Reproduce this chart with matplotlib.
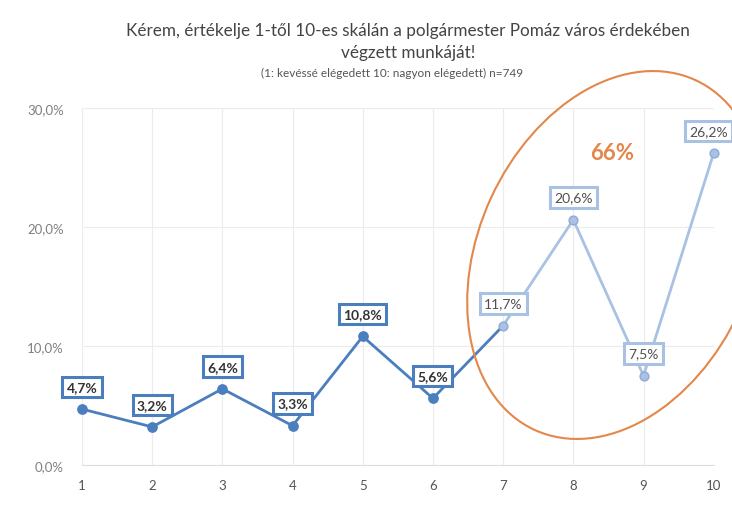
import matplotlib
matplotlib.use("Agg")
import matplotlib.pyplot as plt
from matplotlib.patches import Ellipse
from matplotlib.transforms import IdentityTransform

plt.rcParams["font.family"] = ["Lato", "DejaVu Sans"]

scores = [1, 2, 3, 4, 5, 6, 7, 8, 9, 10]
shares = [4.7, 3.2, 6.4, 3.3, 10.8, 5.6, 11.7, 20.6, 7.5, 26.2]
labels = ["4,7%", "3,2%", "6,4%", "3,3%", "10,8%", "5,6%",
          "11,7%", "20,6%", "7,5%", "26,2%"]
y_ticks = [0, 10, 20, 30]
y_ticklabels = ["0,0%", "10,0%", "20,0%", "30,0%"]
n_dark = 6  # first six points drawn in the darker blue

DARK = "#4a7ebf"
LIGHT = "#a9c1e3"
ORANGE = "#e3874a"

fig = plt.figure(figsize=(7.32, 5.06), dpi=100)
ax = fig.add_axes([0.112, 0.079, 0.863, 0.706])

# dark part (includes segment to point 7), light part after
ax.plot(scores[:n_dark + 1], shares[:n_dark + 1], color=DARK, lw=2.0, zorder=3,
        clip_on=False)
ax.plot(scores[n_dark:], shares[n_dark:], color=LIGHT, lw=2.0, zorder=3,
        clip_on=False)
ax.scatter(scores[:n_dark], shares[:n_dark], s=45, color=DARK, zorder=4,
           clip_on=False)
ax.scatter(scores[n_dark:], shares[n_dark:], s=40, color=LIGHT,
           edgecolors="#8eaad6", linewidths=1.0, zorder=4, clip_on=False)

for i, (x, y, t) in enumerate(zip(scores, shares, labels)):
    dark = i < n_dark
    dx = -4 if i == len(scores) - 1 else 0  # keep the last box inside the image
    ax.annotate(t, (x, y), xytext=(dx, 16), textcoords="offset points",
                ha="center", va="center", fontsize=10,
                fontweight="bold" if dark else "normal",
                color="#333333" if dark else "#505050", zorder=6,
                bbox=dict(boxstyle="square,pad=0.3", fc="white",
                          ec=DARK if dark else LIGHT, lw=2.2))

ax.set_xlim(1, 10)
ax.set_ylim(0, 30)
ax.set_xticks(scores)
ax.set_xticklabels([str(s) for s in scores])
ax.set_yticks(y_ticks)
ax.set_yticklabels(y_ticklabels)
ax.tick_params(axis="both", length=0, labelsize=9.5)
ax.tick_params(axis="y", pad=13, colors="#808080")
ax.tick_params(axis="x", pad=10, colors="#555555")
ax.grid(True, color="#ececec", lw=0.8)
ax.set_axisbelow(True)
for side in ("top", "right", "left"):
    ax.spines[side].set_visible(False)
ax.spines["bottom"].set_color("#dddddd")

fig.text(0.557, 0.938, "Kérem, értékelje 1-től 10-es skálán a polgármester Pomáz város érdekében",
         ha="center", va="center", fontsize=12.3, color="#444444")
fig.text(0.557, 0.896, "végzett munkáját!", ha="center", va="center",
         fontsize=12.3, color="#444444")
fig.text(0.535, 0.855, "(1: kevéssé elégedett 10: nagyon elégedett) n=749",
         ha="center", va="center", fontsize=8.5, color="#555555")

# highlight ellipse around the top scores
fig.patches.append(Ellipse((615, 250), 385, 273, angle=65.3, fill=False,
                           ec=ORANGE, lw=1.5, transform=IdentityTransform()))
fig.text(0.836, 0.697, "66%", ha="center", va="center", fontsize=16,
         fontweight="bold", color=ORANGE)

fig.savefig("out.png", dpi=100)
